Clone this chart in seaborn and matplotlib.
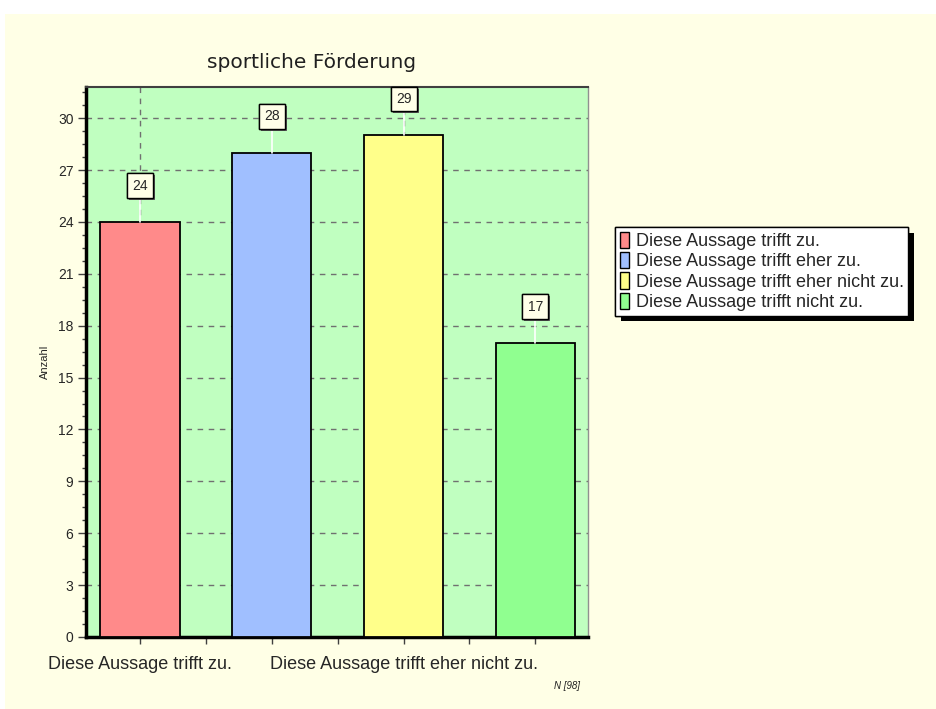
import matplotlib
matplotlib.use("Agg")
import matplotlib.pyplot as plt
import matplotlib.patheffects as pe
from matplotlib.patches import Rectangle, Patch
import seaborn as sns
import pandas as pd

# Daten
categories = ["Diese Aussage trifft zu.", "Diese Aussage trifft eher zu.",
              "Diese Aussage trifft eher nicht zu.", "Diese Aussage trifft nicht zu."]
counts = [24, 28, 29, 17]
bar_colors = ["#FF8A8A", "#A0BFFF", "#FFFF8A", "#90FF90"]
title = "sportliche Förderung"
n_total = "N [98]"

PANEL = "#FFFFE6"
PLOT_BG = "#C0FFC0"

sns.set_style("white")
plt.rcParams['font.family'] = ['Liberation Sans', 'DejaVu Sans']

fig = plt.figure(figsize=(9.36, 7.09), dpi=100, facecolor="white")
# heller Hintergrund-Rahmen
fig.patches.append(Rectangle((5 / 936, 0), 1, 1 - 14 / 709, transform=fig.transFigure,
                             facecolor=PANEL, edgecolor="none", zorder=-10))

ax = fig.add_axes([86 / 936, 1 - 637 / 709, (588 - 86) / 936, (637 - 87) / 709])
ax.set_facecolor(PLOT_BG)

df = pd.DataFrame({"Kategorie": categories, "Anzahl": counts})
sns.barplot(data=df, x="Kategorie", y="Anzahl", hue="Kategorie", palette=bar_colors,
            saturation=1, width=0.6, edgecolor="black", linewidth=1.3, legend=False,
            dodge=False, ax=ax, zorder=3)

ax.set_xlim(-0.41, 3.4)
ax.set_ylim(0, 31.8)

# Achsen / Ticks
ax.set_yticks(range(0, 31, 3))
ax.set_yticks([i * 0.75 for i in range(0, 43)], minor=True)
ax.tick_params(axis="y", which="major", direction="out", length=6, width=1,
               labelsize=10, pad=3, left=True, color="#404040")
ax.tick_params(axis="y", which="minor", direction="out", length=3, width=1,
               left=True, color="#404040")
xt = [i * 0.5 for i in range(7)]
ax.set_xticks(xt)
ax.set_xticklabels([categories[0], "", "", "", categories[2], "", ""], fontsize=13)
ax.tick_params(axis="x", which="major", direction="out", length=5, width=1,
               bottom=True, color="#404040", pad=9)
ax.set_xlabel("")
ax.set_ylabel("Anzahl", fontsize=8, labelpad=6)

ax.yaxis.grid(True, linestyle=(0, (4, 4)), color="#707070", linewidth=1, zorder=0)
for xv in [0, 2]:
    ax.axvline(xv, linestyle=(0, (4, 4)), color="#707070", linewidth=1, zorder=0)
ax.set_axisbelow(True)

for side in ["left", "bottom"]:
    ax.spines[side].set_color("black")
    ax.spines[side].set_linewidth(2.5)
ax.spines["top"].set_color("#404040")
ax.spines["top"].set_linewidth(1.5)
ax.spines["right"].set_color("#909090")
ax.spines["right"].set_linewidth(1)

# Wertebeschriftungen mit Verbindungslinie
for i, v in enumerate(counts):
    ax.plot([i, i], [v, v + 2.1], color="white", linewidth=1.2, zorder=4)
    t = ax.text(i, v + 2.1, str(v), ha="center", va="center", fontsize=10, zorder=6,
                bbox=dict(boxstyle="square,pad=0.38", facecolor="#FFFFE8",
                          edgecolor="black", linewidth=1))
    t.get_bbox_patch().set_path_effects([
        pe.withSimplePatchShadow(offset=(1.5, -1.5), shadow_rgbFace="#606060", alpha=1),
        pe.Normal()])

# Legende
handles = [Patch(facecolor=c, edgecolor="black", linewidth=1) for c in bar_colors]
leg = fig.legend(handles, categories, loc="upper left",
                 bbox_to_anchor=(615 / 936, 1 - 227 / 709), fontsize=13,
                 frameon=True, fancybox=False, framealpha=1, edgecolor="black",
                 handlelength=0.55, handleheight=1.0, handletextpad=0.35,
                 labelspacing=0.12, borderpad=0.25, borderaxespad=0)
leg.get_frame().set_linewidth(1)
leg.get_frame().set_facecolor("white")
leg.get_frame().set_path_effects([
    pe.withSimplePatchShadow(offset=(4, -4), shadow_rgbFace="black", alpha=1),
    pe.Normal()])

# Titel und Fußnote
fig.text(312 / 936, 1 - 62 / 709, title, ha="center", va="center", fontsize=14.5,
         family=["DejaVu Sans"], color="#202020")
fig.text(567 / 936, 1 - 686 / 709, n_total, ha="center", va="center", fontsize=7,
         style="italic", color="#202020")

fig.savefig("out.png", dpi=100, facecolor=fig.get_facecolor())
